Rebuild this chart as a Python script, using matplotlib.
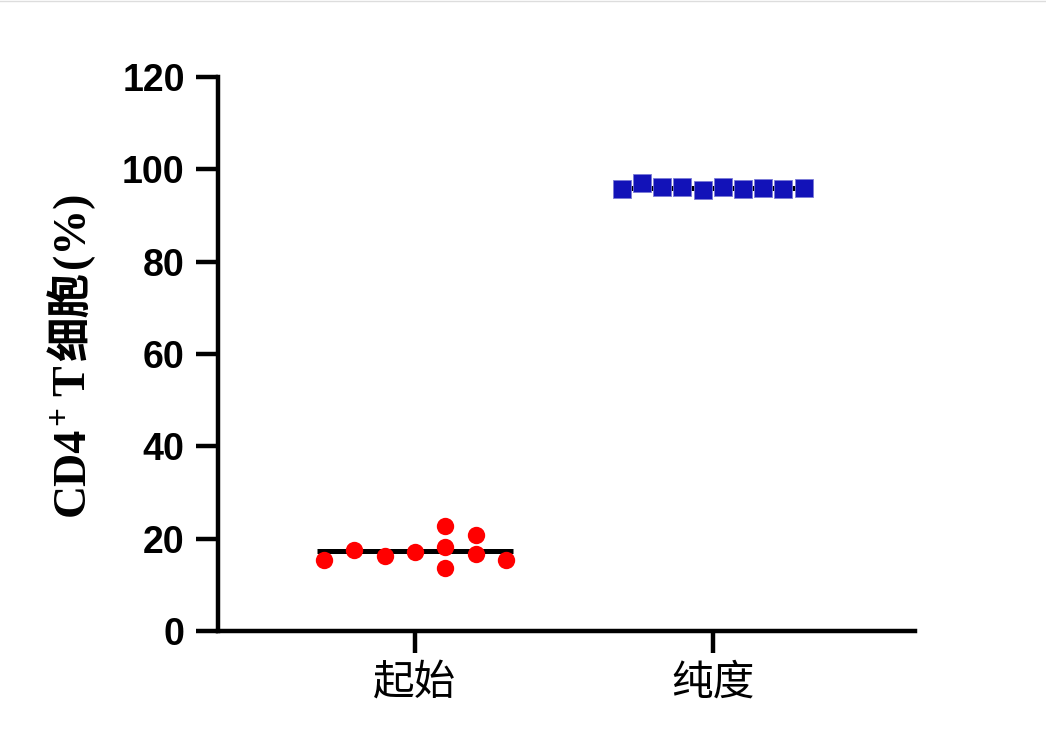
import matplotlib.pyplot as plt
import numpy as np

# data
groups = ['起始', '纯度']
start_vals = [15.4, 17.5, 16.2, 17.1, 22.7, 18.2, 13.6, 20.8, 16.7, 15.4]
purity_vals = [95.7, 97.0, 96.2, 96.2, 95.5, 96.2, 95.7, 95.9, 95.7, 95.9]
yticks = [0, 20, 40, 60, 80, 100, 120]

# scatter layout (column slot of each point)
start_slot = [-3, -2, -1, 0, 1, 1, 1, 2, 2, 3]
purity_slot = np.arange(10) - 4.5

fig = plt.figure(figsize=(10.46, 7.36), dpi=100)
ax = fig.add_axes([0.2084, 0.1427, 0.6664, 0.7527])

half = 0.33
ax.plot([0 - half, 0 + half], [np.mean(start_vals)] * 2, color='k', lw=3.6, zorder=2, solid_capstyle='butt')
ax.plot([1 - half, 1 + half], [np.mean(purity_vals)] * 2, color='k', lw=3.6, zorder=2, solid_capstyle='butt')

ax.plot(0 + np.array(start_slot) * 0.1017, start_vals, 'o', color='#ff0000',
        markersize=12.5, markeredgewidth=0, zorder=3)
ax.plot(1 + purity_slot * 0.068, purity_vals, 's', color='#1212b8',
        markersize=12.5, markeredgecolor='#7a7ad6', markeredgewidth=0.6, zorder=3)

ax.set_xlim(-0.662, 1.68)
ax.set_ylim(0, 120)
ax.set_yticks(yticks)
ax.set_xticks([0, 1])

for s in ['top', 'right']:
    ax.spines[s].set_visible(False)
for s in ['left', 'bottom']:
    ax.spines[s].set_linewidth(3.2)
    ax.spines[s].set_capstyle('projecting')

ax.tick_params(axis='both', width=3.2, length=16)
ax.tick_params(axis='y', pad=8)
ax.tick_params(axis='x', pad=7)
ax.set_yticklabels([str(t) for t in yticks], fontfamily='Liberation Sans',
                   fontweight='bold', fontsize=27)
ax.set_xticklabels(groups, fontfamily='Noto Sans CJK SC', fontsize=30)

# y label built from pieces: (text, family, size, baseline shift px, gap before px)
serif = 'Liberation Serif'
cjk = 'Noto Sans CJK SC'
pieces = [('CD4', serif, 33, 0, 0), ('+', serif, 24, -17, 2), ('T', serif, 33, 0, 10),
          ('细胞', cjk, 32, 0, 4), ('(%)', serif, 33, 0, 4)]
renderer = fig.canvas.get_renderer()
W, H = fig.bbox.width, fig.bbox.height
base_x = 84 / W
y = 0.0
texts = []
for txt, fam, size, dx, gap in pieces:
    y += gap / H
    t = fig.text(base_x + dx / W, y, txt, rotation=90, rotation_mode='anchor',
                 ha='left', va='baseline', family=fam, fontweight='bold', fontsize=size)
    bb = t.get_window_extent(renderer)
    texts.append(t)
    y = bb.y1 / H
center = 0.1427 + 0.7527 / 2
shift = center - y / 2
for t in texts:
    px, py = t.get_position()
    t.set_position((px, py + shift))

fig.add_artist(plt.Line2D([0, 1], [0.999, 0.999], color='#dddddd', lw=1))

fig.savefig('out.png', dpi=100)
